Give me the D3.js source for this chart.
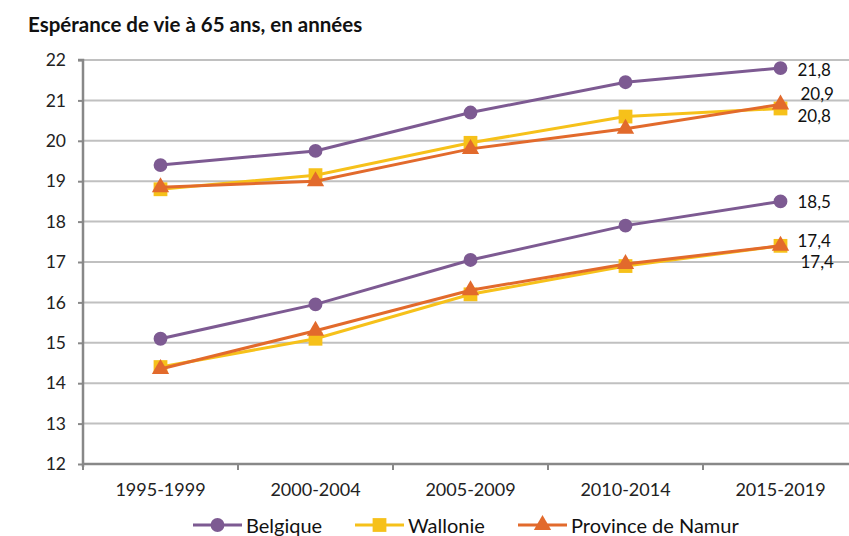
<!DOCTYPE html>
<html><head><meta charset="utf-8">
<script src="https://cdn.jsdelivr.net/npm/d3@7"></script>
<style>body{margin:0;background:#fff;}svg{display:block;font-family:Lato,"Open Sans",sans-serif;}</style>
</head><body><svg id="c" width="849" height="536"></svg>
<script>
const categories = ["1995-1999","2000-2004","2005-2009","2010-2014","2015-2019"];
const yTicks = [12,13,14,15,16,17,18,19,20,21,22];
const seriesNames = ["Belgique","Wallonie","Province de Namur"];
const belgiqueFemmes = [19.4, 19.75, 20.7, 21.45, 21.8];
const wallonieFemmes = [18.8, 19.15, 19.95, 20.6, 20.8];
const namurFemmes    = [18.85, 19.0, 19.8, 20.3, 20.9];
const belgiqueHommes = [15.1, 15.95, 17.05, 17.9, 18.5];
const wallonieHommes = [14.4, 15.1, 16.2, 16.9, 17.4];
const namurHommes    = [14.35, 15.3, 16.3, 16.95, 17.4];
const lastLabels = ["21,8","20,8","20,9","18,5","17,4","17,4"];

const colors = {"Belgique":"#7D5A92","Wallonie":"#F6C11A","Province de Namur":"#E26A2C"};
const symbols = {"Belgique":d3.symbolCircle,"Wallonie":d3.symbolSquare,"Province de Namur":d3.symbolTriangle};
const symSize = {"Belgique":150,"Wallonie":190,"Province de Namur":130};

const lines = [
  {name:"Belgique", values:belgiqueFemmes, label:lastLabels[0], dx:17, dy:8},
  {name:"Wallonie", values:wallonieFemmes, label:lastLabels[1], dx:17, dy:14},
  {name:"Province de Namur", values:namurFemmes, label:lastLabels[2], dx:20, dy:-4},
  {name:"Belgique", values:belgiqueHommes, label:lastLabels[3], dx:17, dy:7},
  {name:"Wallonie", values:wallonieHommes, label:lastLabels[4], dx:17, dy:1},
  {name:"Province de Namur", values:namurHommes, label:lastLabels[5], dx:20, dy:22}
];
// draw order: yellow under orange
const drawOrder = [1,4,0,3,2,5];

const svg = d3.select("#c");
const x0 = 83, y0 = 60, y1 = 464;
const x = d3.scaleBand().domain(categories).range([x0, x0 + 5*155]);
const y = d3.scaleLinear().domain([12,22]).range([y1, y0]);

svg.append("text").attr("x",28).attr("y",32).attr("font-size",20.5).attr("font-weight","bold")
  .attr("fill","#111").text("Espérance de vie à 65 ans, en années");

// gridlines
svg.append("g").selectAll("line").data(yTicks.filter(t=>t>12)).join("line")
  .attr("x1",x0).attr("x2",849).attr("y1",d=>y(d)).attr("y2",d=>y(d))
  .attr("stroke","#c0c0c0").attr("stroke-width",2);

// y axis
const ya = svg.append("g").attr("transform",`translate(${x0},0)`)
  .call(d3.axisLeft(y).tickValues(yTicks).tickSize(5).tickPadding(12).tickFormat(d3.format("d")));
ya.select(".domain").attr("stroke","#888").attr("stroke-width",2.5).attr("d",`M-5,${y0}H0V${y1+3}`);
ya.selectAll(".tick line").attr("stroke","#888").attr("stroke-width",2);
ya.selectAll(".tick text").attr("font-size",17.5).attr("fill","#222").attr("font-family","Lato,sans-serif");

// x axis
const xa = svg.append("g").attr("transform",`translate(0,${y1})`)
  .call(d3.axisBottom(x).tickSize(0).tickPadding(19));
xa.select(".domain").attr("stroke","#888").attr("stroke-width",2.5).attr("d",`M${x0},0H849`);
xa.selectAll(".tick text").attr("font-size",18).attr("fill","#222").attr("font-family","Lato,sans-serif");
xa.append("g").selectAll("line").data(categories).join("line")
  .attr("x1",d=>x(d)).attr("x2",d=>x(d)).attr("y1",0).attr("y2",6)
  .attr("stroke","#888").attr("stroke-width",2);

const cx = d => x(d) + x.bandwidth()/2;
const lineGen = d3.line().x((d,i)=>cx(categories[i])).y(d=>y(d));

drawOrder.forEach(k=>{
  const s = lines[k];
  const g = svg.append("g");
  g.append("path").attr("d",lineGen(s.values)).attr("fill","none")
    .attr("stroke",colors[s.name]).attr("stroke-width",3);
  g.selectAll("path.m").data(s.values).join("path").attr("class","m")
    .attr("transform",(d,i)=>`translate(${cx(categories[i])},${y(d)})`)
    .attr("d",d3.symbol().type(symbols[s.name]).size(symSize[s.name]))
    .attr("fill",colors[s.name]);
});
lines.forEach(s=>{
  const v = s.values[s.values.length-1];
  svg.append("text").attr("x",cx(categories[4])+s.dx).attr("y",y(v)+s.dy)
    .attr("font-size",17).attr("fill","#111").text(s.label);
});

// legend
const legX = [193, 355, 518];
const lg = svg.append("g").attr("transform","translate(0,525)");
seriesNames.forEach((n,i)=>{
  const g = lg.append("g").attr("transform",`translate(${legX[i]},0)`);
  g.append("line").attr("x1",0).attr("x2",49).attr("stroke",colors[n]).attr("stroke-width",3);
  g.append("path").attr("transform","translate(24.5,0)").attr("d",d3.symbol().type(symbols[n]).size(symSize[n])).attr("fill",colors[n]);
  g.append("text").attr("x",53).attr("y",8).attr("font-size",20).attr("fill","#111").text(n);
});
</script></body></html>
